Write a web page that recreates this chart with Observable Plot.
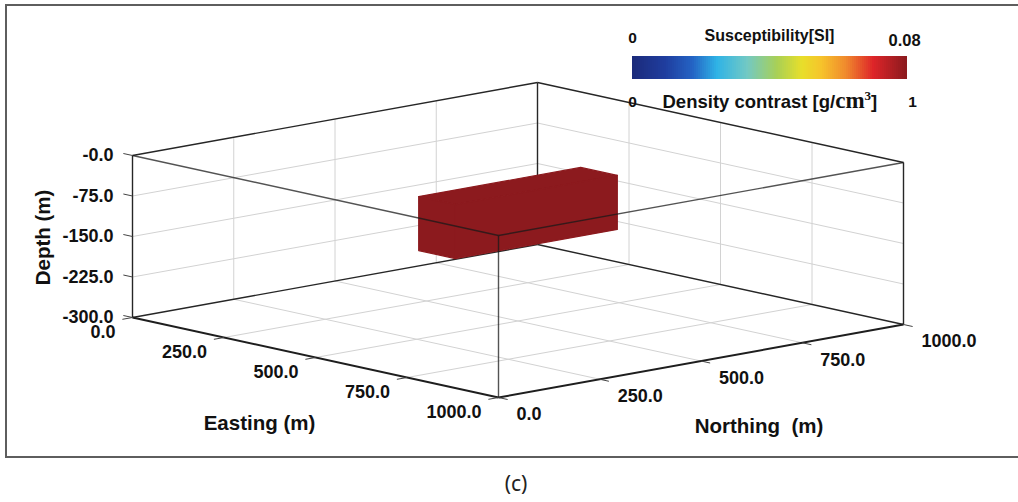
<!DOCTYPE html>
<html>
<head>
<meta charset="utf-8">
<script src="https://cdn.jsdelivr.net/npm/d3@7"></script>
<script src="https://cdn.jsdelivr.net/npm/@observablehq/plot@0.6"></script>
<style>
  html, body { margin: 0; background: #fff; }
  body { position: relative; width: 1018px; height: 502px; }
  #chart { position: absolute; left: 0; top: 0; width: 1018px; height: 458px; }
  #chart svg { max-width: none; }
  #frame {
    position: absolute; left: 5px; top: 4px; width: 1011px; height: 450px;
    border-left: 2px solid #5e5e5e; border-top: 2px solid #5e5e5e; border-bottom: 2px solid #5e5e5e;
    pointer-events: none;
  }
  #caption {
    position: absolute; left: 496px; top: 470px; width: 40px; text-align: center;
    font-family: "Noto Sans", "Open Sans", sans-serif; font-size: 21px; line-height: 26px; color: #222;
  }
</style>
</head>
<body>
<div id="frame"></div>
<div id="chart"></div>
<div id="caption">(c)</div>
<script>
// Axis ticks of the model volume (metres)
const eastingTicks = [0, 250, 500, 750, 1000];
const northingTicks = [0, 250, 500, 750, 1000];
const depthTicks = [0, -75, -150, -225, -300];
const eastingLabels = ["0.0", "250.0", "500.0", "750.0", "1000.0"];
const northingLabels = ["0.0", "250.0", "500.0", "750.0", "1000.0"];
const depthLabels = ["-0.0", "-75.0", "-150.0", "-225.0", "-300.0"];

// Buried prism (metres) and its property value
const bodyEasting = [450, 550];
const bodyNorthing = [300, 700];
const bodyDepth = [-50, -150];
const bodySusceptibility = 0.08;

// Colour bar: susceptibility range and density-contrast range
const susceptibilityRange = [0, 0.08];
const densityRange = [0, 1];
const colorStops = [0, 0.12, 0.22, 0.31, 0.42, 0.53, 0.62, 0.69, 0.78, 0.88, 1];
const colorRamp = ["#1b2a7a", "#1f3d9e", "#2463c4", "#2fb3e6", "#72c9c4", "#a9d055",
                   "#e8df2a", "#f6c42b", "#f08a2d", "#de2529", "#8c1a1e"];

// Orthographic view of the volume: origin (E=0, N=0, depth=0) and unit steps in px
const ORIGIN = [132, 155];
const E_STEP = [0.366, 0.080];
const N_STEP = [0.405, -0.073];
const D_STEP = 0.54;
const P = (e, n, d) => [
  ORIGIN[0] + E_STEP[0] * e + N_STEP[0] * n,
  ORIGIN[1] + E_STEP[1] * e + N_STEP[1] * n - D_STEP * d
];
const seg = (a, b) => ({x1: a[0], y1: a[1], x2: b[0], y2: b[1]});

const [eMin, eMax] = d3.extent(eastingTicks);
const [nMin, nMax] = d3.extent(northingTicks);
const [dBot, dTop] = d3.extent(depthTicks);
const inner = (t) => t.slice(1, -1);

// Grid lines on the two back walls and the floor
const grid = [
  ...inner(northingTicks).map(n => seg(P(eMin, n, dTop), P(eMin, n, dBot))),
  ...inner(depthTicks).map(d => seg(P(eMin, nMin, d), P(eMin, nMax, d))),
  ...inner(eastingTicks).map(e => seg(P(e, nMax, dTop), P(e, nMax, dBot))),
  ...inner(depthTicks).map(d => seg(P(eMin, nMax, d), P(eMax, nMax, d))),
  ...inner(eastingTicks).map(e => seg(P(e, nMin, dBot), P(e, nMax, dBot))),
  ...inner(northingTicks).map(n => seg(P(eMin, n, dBot), P(eMax, n, dBot)))
];

// Box edges behind the prism
const backEdges = [
  seg(P(eMin, nMin, dTop), P(eMin, nMin, dBot)),
  seg(P(eMin, nMax, dTop), P(eMin, nMax, dBot)),
  seg(P(eMax, nMax, dTop), P(eMax, nMax, dBot)),
  seg(P(eMin, nMin, dTop), P(eMin, nMax, dTop)),
  seg(P(eMin, nMax, dTop), P(eMax, nMax, dTop)),
  seg(P(eMin, nMin, dBot), P(eMin, nMax, dBot)),
  seg(P(eMin, nMax, dBot), P(eMax, nMax, dBot))
];
// Easting and northing axis lines
const axisEdges = [
  seg(P(eMin, nMin, dBot), P(eMax, nMin, dBot)),
  seg(P(eMax, nMin, dBot), P(eMax, nMax, dBot))
];
// Box edges in front of the prism
const frontEdges = [
  seg(P(eMin, nMin, dTop), P(eMax, nMin, dTop)),
  seg(P(eMax, nMin, dTop), P(eMax, nMax, dTop)),
  seg(P(eMax, nMin, dTop), P(eMax, nMin, dBot))
];

// Tick marks
const TICK = 25;
const ticks = [
  ...depthTicks.map(d => seg(P(eMin, nMin, d), P(eMin - TICK, nMin, d))),
  ...eastingTicks.map(e => seg(P(e, nMin, dBot), P(e, nMin - TICK, dBot))),
  ...northingTicks.map(n => seg(P(eMax, n, dBot), P(eMax + TICK, n, dBot)))
];

// Visible faces of the prism
const [e0, e1] = bodyEasting, [n0, n1] = bodyNorthing, [dt, db] = bodyDepth;
const faces = {
  top: [[e0, n0, dt], [e0, n1, dt], [e1, n1, dt], [e1, n0, dt]],
  east: [[e1, n0, dt], [e1, n1, dt], [e1, n1, db], [e1, n0, db]],
  south: [[e0, n0, dt], [e1, n0, dt], [e1, n0, db], [e0, n0, db]]
};
const faceRows = Object.entries(faces).flatMap(([face, pts]) =>
  [...pts, pts[0]].map(([e, n, d]) => {
    const [x, y] = P(e, n, d);
    return {face, x, y, value: bodySusceptibility};
  })
);

// Colour bar cells
const CB = {x0: 632, x1: 906, y0: 56, y1: 79};
const cbX = d3.scaleLinear(susceptibilityRange, [CB.x0, CB.x1]);
const toValue = d3.scaleLinear([0, 1], susceptibilityRange);
const nCells = 137;
const cells = d3.range(nCells).map(i => {
  const a = toValue(i / nCells), b = toValue((i + 1) / nCells);
  return {x1: cbX(a), x2: cbX(b) + 0.6, y1: CB.y0, y2: CB.y1, value: (a + b) / 2};
});

const FONT = "Liberation Sans, Arial, Helvetica, sans-serif";
const INK = "#111";
const tickText = {fontSize: 18, fontWeight: "bold", fill: INK};

const depthLabelRows = depthTicks.map((d, i) => {
  const [x, y] = P(eMin, nMin, d);
  return {x: x - 19, y, label: depthLabels[i]};
});
const eastingLabelRows = eastingTicks.map((e, i) => {
  const [x, y] = P(e, nMin, dBot);
  return {x: x - 17, y: y + 15, label: eastingLabels[i]};
});
const northingLabelRows = northingTicks.map((n, i) => {
  const [x, y] = P(eMax, n, dBot);
  return {x: x + 18, y: y + 17, label: northingLabels[i]};
});

const depthMid = P(eMin, nMin, (dTop + dBot) / 2);
const eastMid = P((eMin + eMax) / 2, nMin, dBot);
const northMid = P(eMax, (nMin + nMax) / 2, dBot);
const titles = [
  {x: eastMid[0] - 56, y: eastMid[1] + 66, label: "Easting (m)"},
  {x: northMid[0] + 58, y: northMid[1] + 65, label: "Northing\u00a0 (m)"}
];
const depthTitle = [{x: depthMid[0] - 89, y: depthMid[1] + 1, label: "Depth (m)"}];

const cbMiddle = [
  {x: (CB.x0 + CB.x1) / 2, y: 35, label: "Susceptibility[SI]", size: 16},
  {x: CB.x0, y: 38, label: String(susceptibilityRange[0]), size: 15.5},
  {x: CB.x0, y: 102, label: String(densityRange[0]), size: 15.5},
  {x: 912, y: 102, label: String(densityRange[1]), size: 15.5}
];
const cbEnd = [{x: 888, y: 40, label: String(susceptibilityRange[1])}];
const densityTitle = [{x: 662, y: 102, label: "Density contrast [g/cm3]"}];

const plot = Plot.plot({
  width: 1018,
  height: 458,
  margin: 0,
  x: {type: "identity"},
  y: {type: "identity"},
  color: {type: "linear", domain: colorStops.map(toValue), range: colorRamp, interpolate: "rgb"},
  style: {background: "transparent", fontFamily: FONT},
  marks: [
    Plot.link(grid, {x1: "x1", y1: "y1", x2: "x2", y2: "y2", stroke: "#d2d2d2", strokeWidth: 1}),
    Plot.link(backEdges, {x1: "x1", y1: "y1", x2: "x2", y2: "y2", stroke: "#262626", strokeWidth: 1.4}),
    Plot.link(axisEdges, {x1: "x1", y1: "y1", x2: "x2", y2: "y2", stroke: "#1e1e1e", strokeWidth: 2}),
    Plot.link(ticks, {x1: "x1", y1: "y1", x2: "x2", y2: "y2", stroke: "#444", strokeWidth: 1}),
    Plot.line(faceRows, {x: "x", y: "y", z: "face", fill: "value", stroke: "value", strokeWidth: 1.2, strokeLinejoin: "round"}),
    Plot.link(frontEdges, {x1: "x1", y1: "y1", x2: "x2", y2: "y2", stroke: "#1a1a1a", strokeWidth: 1.4, strokeOpacity: 0.75}),
    Plot.text(depthLabelRows, {x: "x", y: "y", text: "label", textAnchor: "end", ...tickText}),
    Plot.text(eastingLabelRows, {x: "x", y: "y", text: "label", textAnchor: "end", ...tickText}),
    Plot.text(northingLabelRows, {x: "x", y: "y", text: "label", textAnchor: "start", ...tickText}),
    Plot.text(titles, {x: "x", y: "y", text: "label", fontSize: 20.5, fontWeight: "bold", fill: INK}),
    Plot.text(depthTitle, {x: "x", y: "y", text: "label", rotate: -90, fontSize: 20.5, fontWeight: "bold", fill: INK}),
    Plot.rect(cells, {x1: "x1", x2: "x2", y1: "y1", y2: "y2", fill: "value", shapeRendering: "crispEdges"}),
    Plot.text(cbMiddle, {x: "x", y: "y", text: "label", textAnchor: "middle", fontSize: d => d.size, fontWeight: "bold", fill: INK}),
    Plot.text(cbEnd, {x: "x", y: "y", text: "label", textAnchor: "start", fontSize: 16.5, fontWeight: "bold", fill: INK}),
    Plot.text(densityTitle, {x: "x", y: "y", text: "label", textAnchor: "start", fontSize: 18.5, fontWeight: "bold", fill: INK})
  ]
});

// Typeset the density unit: serif "cm" with a superscript 3
d3.select(plot).selectAll("text")
  .filter(function () { return this.textContent === "Density contrast [g/cm3]"; })
  .each(function () {
    const t = d3.select(this);
    t.text(null);
    t.append("tspan").text("Density contrast [g/");
    t.append("tspan").attr("font-family", "Liberation Serif, Times New Roman, serif").attr("font-size", 23).text("cm");
    t.append("tspan").attr("font-family", "Liberation Serif, Times New Roman, serif").attr("font-size", 13).attr("dy", -8).text("3");
    t.append("tspan").attr("dy", 8).text("]");
  });

document.getElementById("chart").appendChild(plot);
</script>
</body>
</html>
